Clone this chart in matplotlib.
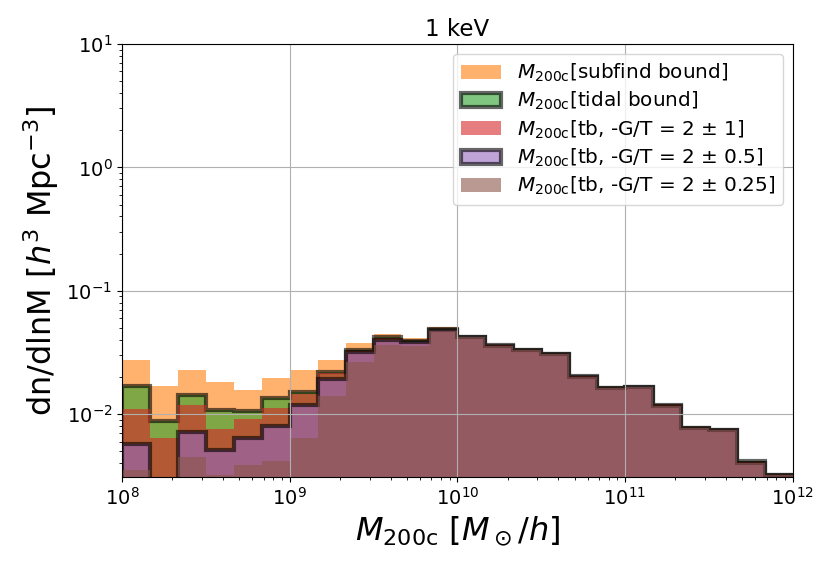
import numpy as np
import matplotlib
matplotlib.use("Agg")
import matplotlib.pyplot as plt

# 24 log bins, 6 per decade, 1e8 .. 1e12
edges = np.logspace(8, 12, 25)
centers = np.sqrt(edges[:-1] * edges[1:])

subfind = [0.0274, 0.0169, 0.0227, 0.0183, 0.0156, 0.0195, 0.0230, 0.0274,
           0.0381, 0.0445, 0.0418, 0.0509, 0.0426, 0.0364, 0.0335, 0.0311,
           0.0204, 0.0165, 0.0167, 0.0122, 0.0079, 0.0076, 0.0042, 0.00326]
tidal = [0.0169, 0.00890, 0.0143, 0.0109, 0.0106, 0.0135, 0.0152, 0.0221,
         0.0333, 0.0423, 0.0392, 0.0488, 0.0423, 0.0362, 0.0334, 0.0310,
         0.0203, 0.0164, 0.0166, 0.0118, 0.0078, 0.0075, 0.0042, 0.00325]
tb_1 = [0.0111, 0.0064, 0.0118, 0.00766, 0.00923, 0.0113, 0.0147, 0.0214,
        0.0325, 0.0415, 0.0388, 0.0482, 0.0422, 0.0361, 0.0333, 0.0310,
        0.0203, 0.0164, 0.0166, 0.0118, 0.0078, 0.0075, 0.0041, 0.00324]
tb_05 = [0.00579, 0.0, 0.00719, 0.00512, 0.00648, 0.0080, 0.0118, 0.0193,
         0.0318, 0.0403, 0.0383, 0.0478, 0.0421, 0.0360, 0.0332, 0.0309,
         0.0202, 0.0163, 0.0165, 0.0117, 0.0077, 0.0074, 0.0040, 0.00322]
tb_025 = [0.00352, 0.0, 0.00451, 0.0032, 0.00386, 0.0042, 0.0064, 0.0141,
          0.0265, 0.0362, 0.0355, 0.0472, 0.0420, 0.0359, 0.0331, 0.0309,
          0.0202, 0.0163, 0.0165, 0.0117, 0.0077, 0.0074, 0.0040, 0.0032]

labels = [r'$M_{\rm 200c}$[subfind bound]',
          r'$M_{\rm 200c}$[tidal bound]',
          r'$M_{\rm 200c}$[tb, -G/T = 2 $\pm$ 1]',
          r'$M_{\rm 200c}$[tb, -G/T = 2 $\pm$ 0.5]',
          r'$M_{\rm 200c}$[tb, -G/T = 2 $\pm$ 0.25]']

fig = plt.figure(figsize=(8.3, 5.7), dpi=100)
ax = fig.add_axes([0.147, 0.163, 0.808, 0.760])
ax.set_xscale('log')
ax.set_yscale('log')

ax.hist(centers, bins=edges, weights=subfind, histtype='stepfilled',
        color='C1', alpha=0.6, label=labels[0])
ax.hist(centers, bins=edges, weights=tidal, histtype='stepfilled',
        facecolor='C2', edgecolor='k', lw=3, alpha=0.6, label=labels[1])
ax.hist(centers, bins=edges, weights=tb_1, histtype='stepfilled',
        color='C3', alpha=0.6, label=labels[2])
ax.hist(centers, bins=edges, weights=tb_05, histtype='stepfilled',
        facecolor='C4', edgecolor='k', lw=3, alpha=0.6, label=labels[3])
ax.hist(centers, bins=edges, weights=tb_025, histtype='stepfilled',
        color='C5', alpha=0.6, label=labels[4])

ax.set_xlim(1e8, 1e12)
ax.set_ylim(3.1e-3, 10)
ax.grid(True)
ax.tick_params(labelsize=14)
ax.set_xlabel(r'$M_{\rm 200c}\ [M_\odot/h]$', fontsize=23)
ax.set_ylabel(r'dn/dlnM [$h^3$ Mpc$^{-3}$]', fontsize=23)
ax.set_title('1 keV', fontsize=16.5)
ax.legend(loc='upper right', fontsize=14.4, labelspacing=0.3)

fig.savefig('out.png')
